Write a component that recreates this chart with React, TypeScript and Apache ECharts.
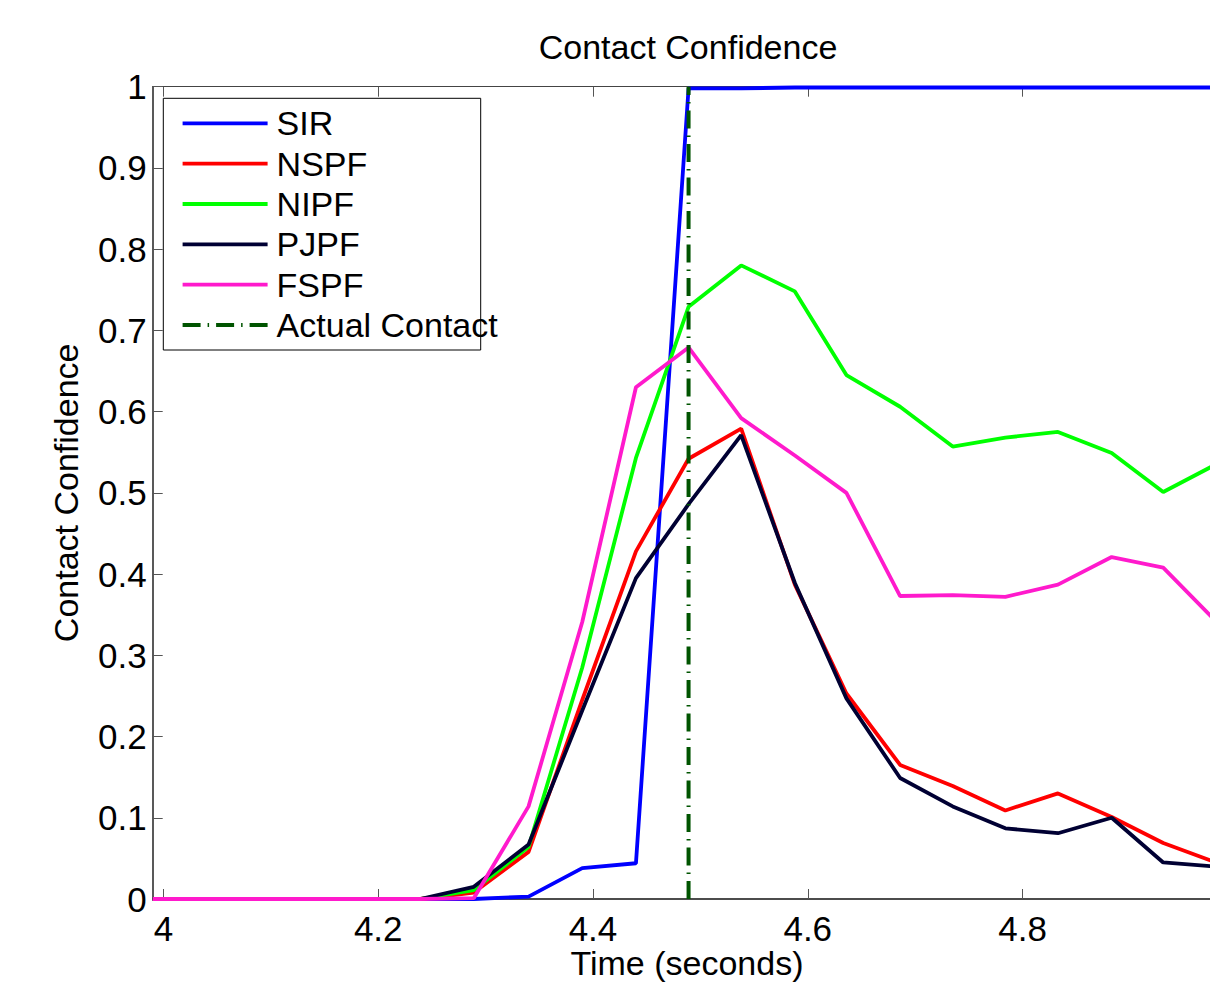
import React, { useEffect, useRef } from "react";
import * as echarts from "echarts";

// ---- data ----
const time = [3.99, 4.04, 4.09, 4.14, 4.19, 4.239, 4.289, 4.34, 4.39, 4.44, 4.489, 4.538, 4.588, 4.636, 4.686, 4.735, 4.784, 4.833, 4.883, 4.931, 4.98];
const sir = [0, 0, 0, 0, 0, 0, 0, 0.003, 0.038, 0.044, 0.998, 0.998, 0.999, 0.999, 0.999, 0.999, 0.999, 0.999, 0.999, 0.999, 0.999];
const nspf = [0, 0, 0, 0, 0, 0, 0.008, 0.058, 0.245, 0.428, 0.542, 0.579, 0.387, 0.253, 0.165, 0.139, 0.109, 0.13, 0.101, 0.069, 0.045];
const nipf = [0, 0, 0, 0, 0, 0, 0.011, 0.064, 0.285, 0.543, 0.729, 0.78, 0.748, 0.645, 0.606, 0.557, 0.568, 0.575, 0.549, 0.501, 0.535];
const pjpf = [0, 0, 0, 0, 0, 0, 0.015, 0.067, 0.232, 0.395, 0.486, 0.571, 0.389, 0.247, 0.149, 0.114, 0.087, 0.081, 0.1, 0.045, 0.04];
const fspf = [0, 0, 0, 0, 0, 0, 0.001, 0.114, 0.341, 0.63, 0.679, 0.592, 0.546, 0.5, 0.373, 0.374, 0.372, 0.387, 0.421, 0.408, 0.342];
const contactTime = 4.489;
const contactRange = [0, 1];

const xTickValues = [4, 4.2, 4.4, 4.6, 4.8];
const seriesNames = ["SIR", "NSPF", "NIPF", "PJPF", "FSPF", "Actual Contact"];
const seriesColors = ["#0000ff", "#ff0000", "#00ff00", "#000033", "#ff1acc", "#005400"];

const FONT = "'Liberation Sans', Arial, Helvetica, sans-serif";
const FS = 34;
const TICK_FS = 35;
const LW = 3.8;

const pairs = (ys: number[]) => time.map((t, i) => [t, ys[i]]);

export default function App() {
  const ref = useRef<HTMLDivElement>(null);

  useEffect(() => {
    document.body.style.margin = "0";
    if (!ref.current) return;
    const chart = echarts.init(ref.current, undefined, { renderer: "svg" });

    const lineSeries = [sir, nspf, nipf, pjpf, fspf].map((ys, i) => ({
      name: seriesNames[i],
      type: "line",
      data: pairs(ys),
      symbol: "none",
      color: seriesColors[i],
      lineStyle: { color: seriesColors[i], width: LW },
      z: 2 + i * 0.01,
    }));

    const contactSeries = {
      name: seriesNames[5],
      type: "line",
      data: contactRange.map((v) => [contactTime, v]),
      symbol: "none",
      color: seriesColors[5],
      lineStyle: { color: seriesColors[5], width: 4, type: [18, 7, 1.5, 7] },
      z: 2.1,
    };

    const option = {
      animation: false,
      backgroundColor: "#fff",
      title: {
        text: "Contact Confidence",
        left: "center",
        top: 30,
        padding: 0,
        textStyle: { fontSize: FS, fontWeight: "normal", color: "#000", fontFamily: FONT, lineHeight: 34 },
      },
      grid: {
        left: 152.7,
        top: 86.7,
        width: 1068.5,
        height: 812.3,
        containLabel: false,
        outerBoundsMode: "none",
      },
      legend: {
        orient: "vertical",
        left: 180.7,
        top: 103.3,
        padding: 0,
        itemWidth: 85,
        itemHeight: 14,
        itemGap: 0.34,
        selectedMode: false,
        z: 5,
        data: seriesNames,
        itemStyle: { opacity: 0 },
        lineStyle: { width: LW },
        textStyle: { fontSize: FS, color: "#000", fontFamily: FONT, lineHeight: 40, padding: [0, 0, 0, 4] },
      },
      graphic: {
        elements: [
          {
            type: "rect",
            z: 3,
            shape: { x: 163.3, y: 98.3, width: 317.4, height: 251.7 },
            style: { fill: "#fff", stroke: "#000", lineWidth: 1 },
          },
        ],
      },
      xAxis: [
        {
          type: "value",
          min: 3.99,
          max: 4.985,
          position: "bottom",
          name: "Time (seconds)",
          nameLocation: "middle",
          nameGap: 47,
          nameMoveOverlap: false,
          nameTextStyle: { fontSize: FS, color: "#000", fontFamily: FONT, lineHeight: 34 },
          axisLine: { show: true, lineStyle: { color: "#111", width: 1.5 } },
          axisTick: { show: true, inside: true, length: 10, customValues: xTickValues, lineStyle: { color: "#555", width: 1 } },
          axisLabel: {
            show: true,
            margin: 12,
            fontSize: TICK_FS,
            color: "#000",
            fontFamily: FONT,
            customValues: xTickValues,
            formatter: (v: number) => String(+Number(v).toFixed(2)),
          },
          splitLine: { show: false },
        },
        {
          type: "value",
          min: 3.99,
          max: 4.985,
          position: "top",
          axisLine: { show: true, lineStyle: { color: "#444", width: 1 } },
          axisTick: { show: true, inside: true, length: 10, customValues: xTickValues, lineStyle: { color: "#555", width: 1 } },
          axisLabel: { show: false },
          splitLine: { show: false },
        },
      ],
      yAxis: {
        type: "value",
        min: 0,
        max: 1,
        interval: 0.1,
        name: "Contact Confidence",
        nameLocation: "middle",
        nameGap: 70,
        nameMoveOverlap: false,
        nameTextStyle: { fontSize: FS, color: "#000", fontFamily: FONT, lineHeight: 34 },
        axisLine: { show: true, lineStyle: { color: "#222", width: 1.5 } },
        axisTick: { show: true, inside: true, length: 10, lineStyle: { color: "#555", width: 1 } },
        axisLabel: {
          margin: 6,
          fontSize: TICK_FS,
          color: "#000",
          fontFamily: FONT,
          formatter: (v: number) => String(+Number(v).toFixed(2)),
        },
        splitLine: { show: false },
      },
      series: [...lineSeries, contactSeries],
    };

    chart.setOption(option as any);
    return () => chart.dispose();
  }, []);

  return (
    <div style={{ width: 1210, height: 983, overflow: "hidden", position: "relative", background: "#fff" }}>
      <div ref={ref} style={{ width: 1376, height: 983 }} />
    </div>
  );
}
